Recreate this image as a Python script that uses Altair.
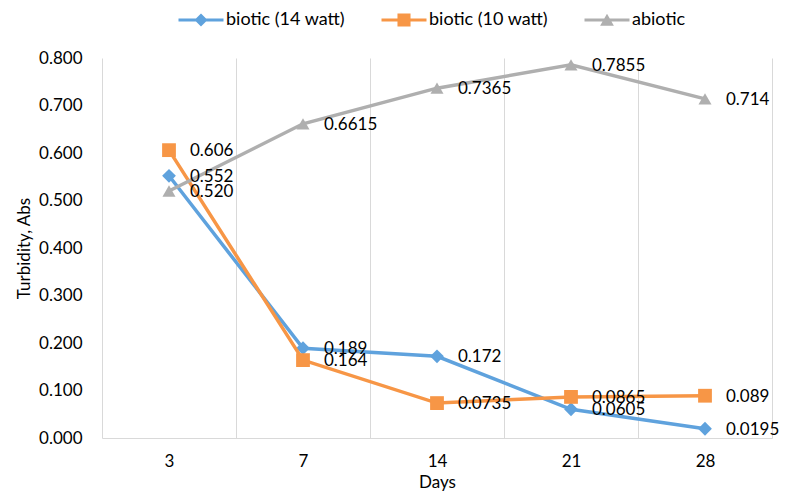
import altair as alt
import pandas as pd

days = ["3", "7", "14", "21", "28"]
series_names = ["biotic (14 watt)", "biotic (10 watt)", "abiotic"]
b14 = [0.552, 0.189, 0.172, 0.0605, 0.0195]
b10 = [0.606, 0.164, 0.0735, 0.0865, 0.089]
abio = [0.520, 0.6615, 0.7365, 0.7855, 0.714]
b14_labels = ["0.552", "0.189", "0.172", "0.0605", "0.0195"]
b10_labels = ["0.606", "0.164", "0.0735", "0.0865", "0.089"]
abio_labels = ["0.520", "0.6615", "0.7365", "0.7855", "0.714"]
y_ticks = [0.0, 0.1, 0.2, 0.3, 0.4, 0.5, 0.6, 0.7, 0.8]

colors = ["#5FA2DD", "#F79646", "#AFAFAF"]
shapes = ["diamond", "square", "triangle-up"]
marker_sizes = [190, 190, 170]
# legend symbols: a line through the marker (unit = 7.5 px for symbolSize 225)
legend_paths = [
    "M-3,-0.2L3,-0.2L3,0.2L-3,0.2Z M0,-0.87L0.87,0L0,0.87L-0.87,0Z",
    "M-3,-0.2L3,-0.2L3,0.2L-3,0.2Z M-0.87,-0.87L0.87,-0.87L0.87,0.87L-0.87,0.87Z",
    "M-3,-0.2L3,-0.2L3,0.2L-3,0.2Z M0,-0.85L0.92,0.75L-0.92,0.75Z",
]

rows = []
for name, vals, labs in zip(series_names, [b14, b10, abio], [b14_labels, b10_labels, abio_labels]):
    for d, v, l in zip(days, vals, labs):
        rows.append({"series": name, "Days": d, "value": v, "label": l})
df = pd.DataFrame(rows)

FONT = "Lato"
TXT = "#000000"

x_enc = alt.X(
    "Days:O",
    sort=days,
    bandPosition=0.5,
    scale=alt.Scale(type="band", paddingInner=0, paddingOuter=0),
    axis=alt.Axis(
        title="Days",
        labelAngle=0,
        ticks=False,
        tickSize=0,
        labelPadding=15,
        labelFont=FONT,
        labelFontSize=17,
        labelColor=TXT,
        domainColor="#D9D9D9",
        domainWidth=1,
        grid=True,
        gridColor="#D9D9D9",
        gridWidth=1,
        tickBand="extent",
        titleFont=FONT,
        titleFontSize=17,
        titleFontWeight="normal",
        titleColor=TXT,
        titleY=44,
        titleBaseline="middle",
    ),
)
y_enc = alt.Y(
    "value:Q",
    scale=alt.Scale(domain=[0, 0.8], nice=False, zero=True),
    axis=alt.Axis(
        title="Turbidity, Abs",
        values=y_ticks,
        format=".3f",
        grid=False,
        domain=False,
        ticks=False,
        tickSize=0,
        labelPadding=20,
        labelFont=FONT,
        labelFontSize=17,
        labelColor=TXT,
        titleFont=FONT,
        titleFontSize=17,
        titleFontWeight="normal",
        titleColor=TXT,
        titleAngle=270,
        titleX=-78,
        titleY=190,
        titleAlign="center",
        titleBaseline="middle",
    ),
)

base = alt.Chart(df)
layers = []
for name, c, s, sz in zip(series_names, colors, shapes, marker_sizes):
    sub = base.transform_filter(alt.datum.series == name)
    layers.append(sub.mark_line(color=c, strokeWidth=3.5).encode(x=x_enc, y=y_enc))
    layers.append(
        sub.mark_point(filled=True, color=c, shape=s, size=sz, opacity=1).encode(x=x_enc, y=y_enc)
    )

text = base.mark_text(
    align="left", baseline="middle", dx=21, dy=1, font=FONT, fontSize=17, color=TXT
).encode(x=x_enc, y=y_enc, text="label:N")
layers.append(text)

legend_props = dict(
    title=None,
    orient="none",
    direction="horizontal",
    legendX=90,
    legendY=-47,
    symbolSize=225,
    symbolStrokeWidth=0,
    labelFont=FONT,
    labelFontSize=18,
    labelColor=TXT,
    labelOffset=16,
    columnPadding=36,
    padding=0,
)

legend_layer = base.transform_filter("false").mark_point(filled=True, opacity=1).encode(
    x=x_enc,
    y=y_enc,
    color=alt.Color(
        "series:N",
        scale=alt.Scale(domain=series_names, range=colors),
        legend=alt.Legend(**legend_props),
    ),
    shape=alt.Shape(
        "series:N",
        scale=alt.Scale(domain=series_names, range=legend_paths),
        legend=alt.Legend(**legend_props),
    ),
)
layers.append(legend_layer)

chart = (
    alt.layer(*layers)
    .properties(
        width=670,
        height=380,
        autosize=alt.AutoSizeParams(type="none"),
        padding={"left": 94, "top": 50, "right": 8, "bottom": 55},
        background="white",
    )
    .configure_view(stroke=None)
)

chart.save("out.html", embed_options={"renderer": "svg", "actions": False})
